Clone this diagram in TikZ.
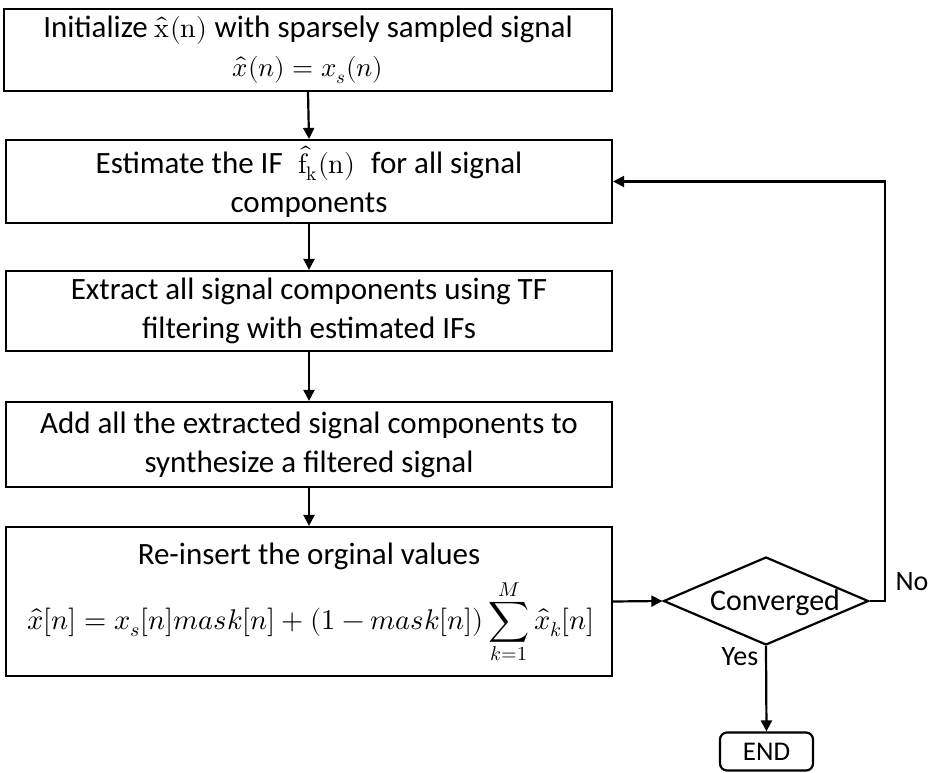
\documentclass[tikz,border=0pt]{standalone}
\usepackage{amsmath}
\usepackage{fontspec}
\usepackage{unicode-math}
\setmainfont{Carlito}
\setmathfont{Latin Modern Math}
\usetikzlibrary{shapes.geometric,arrows.meta}
\begin{document}
\begin{tikzpicture}[x=1pt,y=-1pt,
  every node/.style={inner sep=0pt},
  stepbox/.style={draw,line width=2.2pt,minimum width=606pt,align=center,
    font=\fontsize{31}{39}\selectfont},
  flow/.style={line width=2.2pt,-{Triangle[width=11pt,length=11pt]}},
  lbl/.style={font=\fontsize{28}{32}\selectfont}]
\useasboundingbox (0,0) rectangle (930,773);

\node[stepbox,minimum width=608pt,minimum height=82pt] (init) at (308,50)
  {Initialize {\fontsize{28}{39}\selectfont$\hat{\symup{x}}(\symup{n})$} with sparsely sampled signal\\
   {\fontsize{27}{39}\selectfont$\hat{x}(n) = x_s(n)$}};
\node[stepbox,minimum height=83pt] (est) at (309,181.5)
  {Estimate the IF \;{\fontsize{28}{39}\selectfont$\hat{\symup{f}}_{\symup{k}}(\symup{n})$}\; for all signal\\ components};
\node[stepbox,minimum height=80pt] (ext) at (309,311)
  {Extract all signal components using TF\\ filtering with estimated IFs};
\node[stepbox,minimum height=85pt] (add) at (309,444.5)
  {Add all the extracted signal components to\\ synthesize a filtered signal};

% re-insertion step: frame, caption line and update formula
\node[stepbox,minimum height=149pt] (ins) at (309,601.5) {};
\node[font=\fontsize{31}{39}\selectfont] (instxt) at (309,556) {Re-insert the orginal values};
\node[font=\fontsize{28.5}{34}\selectfont] (insformula) at (311,622)
  {$\displaystyle \hat{x}[n] = x_s[n]mask[n] + (1 - mask[n])\sum_{k=1}^{M}\hat{x}_k[n]$};

\node[draw,diamond,line width=2.2pt,aspect=2.33,minimum width=205pt,minimum height=88pt]
  (conv) at (766,601) {};
\node[font=\fontsize{30}{36}\selectfont] (convtxt) at (775,603) {Converged};

\node[draw,rounded corners=7pt,line width=2.2pt,minimum width=93pt,minimum height=38pt,
  font=\fontsize{27}{30}\selectfont] (end) at (766.5,751.5) {END};

\coordinate (turn) at (885,601);
\coordinate (top) at (885,181.5);

\draw[flow] (init.south) -- (est.north);
\draw[flow] (est.south) -- (ext.north);
\draw[flow] (ext.south) -- (add.north);
\draw[flow] (add.south) -- (ins.north);
\draw[flow] (ins.east) -- (conv.west);
\draw[flow] (conv.east) -- (turn) -- (top) -- (est.east);
\draw[flow] (conv.south) -- (end.north);

\node[lbl] (no) at (912,582) {No};
\node[lbl] (yes) at (740,657) {Yes};
\end{tikzpicture}
\end{document}
